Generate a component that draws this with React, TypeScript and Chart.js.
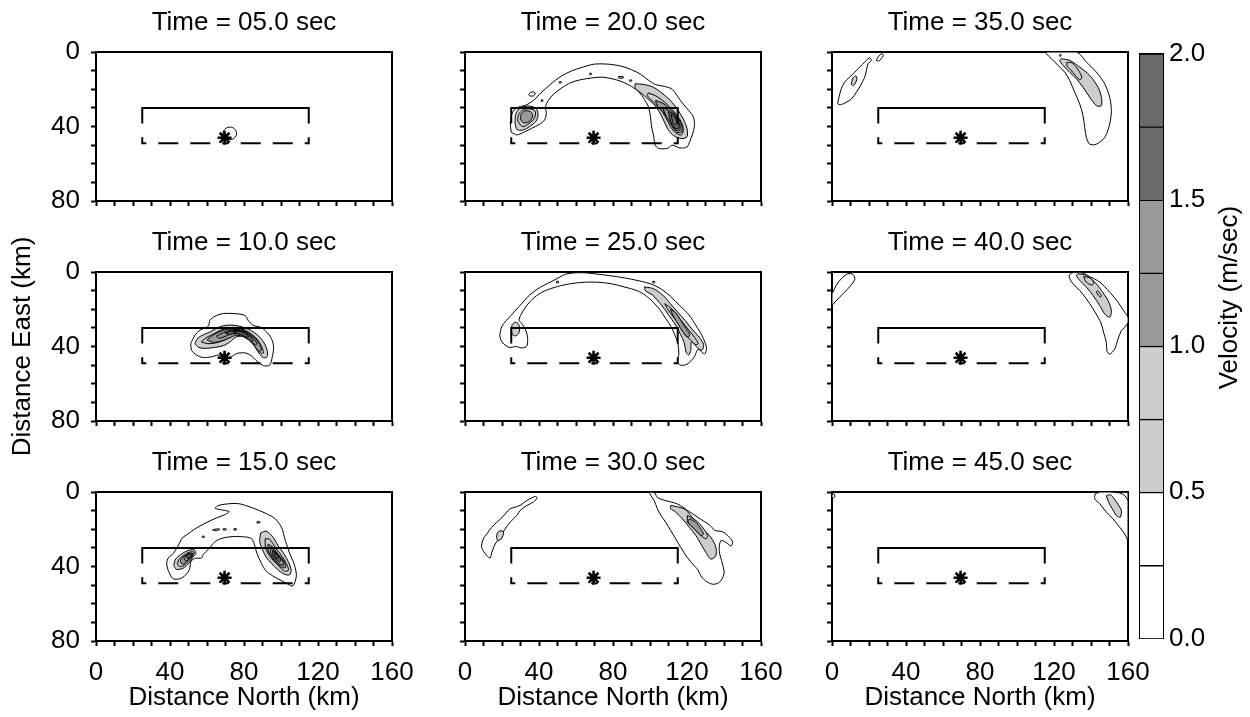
import React, { useEffect, useRef } from 'react';
import { Chart, registerables } from 'chart.js';

Chart.register(...registerables);

type Pt = [number, number];
// [velocity level (m/sec), closed outline in km as [north, east]]
type Contour = [number, Pt[]];

// Colour-bar levels and labelled ticks
const velocityLevels = [0, 0.25, 0.5, 0.75, 1.0, 1.25, 1.5, 1.75, 2.0];
const velocityTicks = [0, 0.5, 1.0, 1.5, 2.0];
const northTicksKm = [0, 40, 80, 120, 160];
const eastTicksKm = [0, 40, 80];

// Fault: solid upper edge, dashed lower edge, and the epicentre
const faultUpper: Pt[] = [[25, 38.4], [25, 30], [115, 30], [115, 38.4]];
const faultLowerWest: Pt[] = [[25, 45.8], [25, 49], [69.5, 49]];
const faultLowerEast: Pt[] = [[115, 45.8], [115, 49], [69.5, 49]];
const epicentre: Pt = [69.5, 46];

const snapshotTimes = [5, 10, 15, 20, 25, 30, 35, 40, 45];

const t05: Contour[] = [
  [0.25, [[68.5, 44.3], [69, 42.3], [70.3, 40.9], [72.2, 40.3], [74.2, 40.8], [75.6, 42.2], [76, 44], [75.2, 45.8], [73.5, 46.9], [71.5, 47], [70, 46.2]]],
];

const t10: Contour[] = [
  [0.25, [[51.2, 38.4], [51.7, 42], [54.4, 44.6], [58, 45.9], [62.5, 45.5], [66.1, 44.6], [67.9, 45.5], [70.5, 46.5], [73.2, 45.5], [75.9, 43.8], [78.6, 43.4], [81, 43.5], [84, 45], [86.5, 47.5], [88.5, 49.1], [91.2, 50.4], [93.9, 50], [95.3, 45.5], [96, 40.2], [94.8, 35.7], [92.1, 32.1], [89.4, 29.8], [84.9, 28.6], [82.2, 25.9], [81.3, 24.1], [79.5, 22.9], [74.1, 22.3], [68.8, 22.3], [64.3, 23.75], [61.6, 25.9], [60.7, 29.1], [56.2, 31.25], [53.5, 33.9]]],
  [0.5, [[53.5, 38.5], [55, 35.5], [58.5, 33.5], [62, 32], [65.5, 30], [69, 28.8], [73, 28.5], [77, 29], [80.5, 30], [84, 31.5], [87.5, 34], [90.5, 37.5], [92.5, 42], [92.5, 45.5], [90.5, 46], [88, 43.5], [85.5, 39.5], [82.5, 36], [79, 34.5], [75.5, 35], [72.5, 37.5], [69, 39.5], [64, 40.5], [59, 41], [55.5, 40.5]]],
  [0.75, [[57, 37.5], [60, 35], [64, 33], [68, 31], [72, 30], [76, 30.2], [80, 31], [83.5, 33], [87, 36], [89.5, 40], [90.5, 43.5], [89, 43.5], [86.5, 40], [83.5, 36.5], [80, 34], [76.5, 33.2], [73, 34.5], [69.5, 36.5], [65, 38], [60.5, 38.5]]],
  [1.0, [[60, 36.5], [63, 34], [67, 32], [71, 30.8], [75, 30.6], [79, 31.2], [82.5, 32.8], [86, 35.5], [88.5, 39], [89.5, 42], [88, 42.5], [85.5, 39.5], [82.5, 36.5], [79, 34.5], [75.5, 34], [72, 35.5], [68, 37], [63.5, 37.8]]],
  [1.25, [[65, 34.5], [69, 32.5], [73, 31.3], [76, 31], [79, 31.6], [82, 33], [85, 35.5], [87, 38.5], [86, 39], [83.5, 36.5], [80.5, 34], [77, 33], [73.5, 33], [70, 34.5], [66.5, 35.5]]],
  [1.5, [[70, 32.8], [73.5, 31.6], [77, 31.4], [80, 32.3], [83, 34.3], [85, 36.8], [84, 37.3], [81.5, 35.2], [78.5, 33.6], [75, 33], [72, 33.5]]],
  [1.75, [[74, 32], [77, 31.8], [80, 32.8], [82.5, 34.5], [81.5, 35], [79, 33.8], [76.5, 33]]],
];

const t15: Contour[] = [
  [0.25, [[39, 42], [38.2, 38.5], [39, 35.5], [41.8, 33], [45.4, 27], [46.3, 25], [49, 23], [54, 19.5], [59.5, 16.5], [65, 14], [70, 12], [72, 10.5], [64.5, 8.8], [66, 7.3], [70, 6.5], [77, 6.25], [84.5, 8.5], [92, 11.6], [97, 14.5], [100.5, 19.5], [102, 25], [103, 28], [104.7, 33], [107.2, 39], [108.3, 45], [106.5, 50.4], [103.8, 49.5], [100, 47.5], [95.5, 45], [92, 42.5], [89.5, 38.5], [87, 33], [86, 29.5], [84, 25], [79, 24], [73, 24], [67.5, 25], [64, 27], [61, 30.5], [58, 33.5], [57, 35.5], [54, 35.5], [51.5, 37], [50.5, 41.5], [48.5, 44.5], [45.5, 46.5], [41.5, 46.5]]],
  [0.5, [[63, 20.4], [65, 19.8], [67, 20], [65, 20.8]]],
  [0.5, [[68.5, 19.9], [70, 19.6], [70.5, 20.3], [69, 20.5]]],
  [0.5, [[74.5, 19.8], [75.8, 19.6], [75.8, 20.4], [74.5, 20.4]]],
  [0.5, [[87, 16], [88.5, 15.8], [88.5, 16.6], [87, 16.6]]],
  [0.5, [[57.5, 23.7], [58.5, 23.7], [58.5, 24.4], [57.5, 24.4]]],
  [0.5, [[42, 39.5], [43, 36], [46, 33.5], [49.5, 31.5], [53, 31], [54, 33], [52, 35.5], [50, 38.5], [47, 41], [43.5, 41.5]]],
  [0.75, [[44, 38.5], [45, 36], [47.5, 34], [50.5, 32.3], [53, 32.3], [52, 34.5], [50, 37], [47.5, 39.5], [45, 40]]],
  [1.0, [[45.5, 37], [47.5, 34.5], [50.5, 32.8], [52.5, 33.3], [51, 35.5], [48.5, 38], [46.5, 38.8]]],
  [1.25, [[47.5, 35.5], [50, 33.3], [52, 33.5], [50.5, 35.5], [48.5, 37]]],
  [1.5, [[49, 34.6], [50.8, 33.4], [51.8, 33.8], [50.3, 35.3], [49.3, 35.6]]],
  [0.5, [[89, 22], [92, 21], [95.5, 24], [98.5, 29], [101.5, 33], [104, 37.5], [105.5, 42], [104.5, 44.5], [101.5, 44], [98, 41.5], [95, 38.5], [92, 35], [90, 31], [88.5, 26.5]]],
  [0.75, [[91.5, 25], [94, 25.5], [97, 30], [100.5, 34.5], [103, 38.5], [104, 42], [102, 42.5], [99, 40], [96, 37], [93, 33], [91.5, 29]]],
  [1.0, [[93, 28], [95.5, 29.5], [98.5, 33.5], [101.5, 37], [102.5, 40.5], [100.5, 40.5], [97.5, 38], [95, 35], [93, 31.5]]],
  [1.25, [[94.5, 30], [97, 32], [100, 35.5], [101.5, 39], [99.5, 39], [96.5, 36], [94.5, 33]]],
  [1.5, [[95.5, 31.5], [98, 33.5], [100, 36.5], [99, 37.5], [97, 35.5], [95.5, 33.5]]],
  [1.75, [[96.5, 32.5], [98.5, 34.5], [98.5, 35.8], [97, 34.8]]],
];

const t20: Contour[] = [
  [0.25, [[25, 43], [24.5, 38], [25.5, 33], [28, 30], [33, 28.5], [37, 26], [41, 22], [46, 17.5], [52, 13], [58, 10], [64, 8], [70, 6.5], [77, 6.5], [84, 7.5], [90, 9.5], [95, 12], [99, 15], [103, 17.5], [108, 18.5], [112, 20], [115, 24], [118, 28], [121, 31.5], [123.5, 35], [124, 40], [123, 44], [121.5, 48], [120, 51], [116, 51.5], [112, 50], [110, 51.5], [107, 52], [104, 51.5], [102.5, 49], [102, 45], [101, 41], [100.5, 37], [100, 33], [99, 29], [97, 25.5], [94, 21.5], [90, 18.5], [85, 16], [80, 14.5], [74, 13.5], [68, 14], [62, 15], [57, 16.5], [52, 19.5], [48, 22.5], [45, 26], [43.5, 29.5], [44, 33], [43, 36.5], [40, 39], [36, 41], [32, 43], [28, 44.5]]],
  [0.25, [[34.5, 22.8], [35.5, 21.6], [37.5, 21.6], [38, 22.6], [36.8, 23.6], [35, 23.6]]],
  [0.5, [[51, 15.9], [52, 15.9], [52, 16.6], [51, 16.6]]],
  [0.5, [[41.2, 25.7], [42.1, 25.7], [42.1, 26.4], [41.2, 26.4]]],
  [0.5, [[67.4, 11.4], [68.3, 11.4], [68.3, 12.1], [67.4, 12.1]]],
  [0.5, [[83, 13.2], [85.5, 13.2], [85.5, 14], [83, 14]]],
  [0.5, [[89, 15], [90, 15], [90, 15.7], [89, 15.7]]],
  [0.5, [[27, 38], [27.5, 33], [30, 30], [34, 29], [38, 30], [39.5, 33], [38.5, 37], [35, 40], [31, 42], [28, 41.5]]],
  [0.75, [[28.5, 37], [29, 33.5], [31.5, 31], [35, 30.5], [38, 32], [37.5, 35.5], [34.5, 38.5], [31, 40]]],
  [1.0, [[30, 36], [30.5, 33], [33, 31.5], [36, 32.5], [36.5, 35], [34.5, 37.5], [31.5, 38]]],
  [0.5, [[92, 17], [97, 17.5], [102, 19], [107, 22.5], [111, 26], [115, 31], [118, 36], [120, 41], [120, 45.5], [117, 46.5], [113, 45], [110, 42], [107.5, 37], [105, 32], [102, 28], [98, 24.5], [94.5, 21.5], [92, 19.5]]],
  [0.75, [[99, 22], [103, 23.5], [108, 27], [112, 31], [116, 36], [118, 41], [117, 44.5], [114, 43.5], [111, 40], [108.5, 35], [105, 30], [101, 26], [98.5, 23.5]]],
  [1.0, [[103, 26], [107, 27.5], [110, 30], [114, 34], [117, 39], [117, 43], [114.5, 43], [112, 40], [110, 36], [107, 32], [104, 29]]],
  [1.25, [[107, 30], [110, 31.5], [113, 34], [116, 38.5], [116, 42], [113.5, 41.5], [111, 38], [108.5, 34]]],
  [1.5, [[110, 32], [113, 33.5], [115, 37], [115.5, 41], [113, 40.5], [111, 37]]],
  [1.75, [[111.5, 33.5], [113.5, 35], [114.5, 38.5], [113, 39], [112, 36.5]]],
];

const t25: Contour[] = [
  [0.25, [[18.8, 34], [20, 29], [24.8, 23.4], [29.3, 18.5], [34.7, 12.6], [41, 8], [48, 4.5], [52.5, 2], [55, 1], [60, 0.4], [66, 0.5], [72, 1.2], [80, 2.2], [88, 3.5], [96, 5.2], [102, 7], [106.5, 9.5], [111, 13], [116, 18], [121, 23], [125, 29], [128.5, 35], [130.5, 40.5], [129.5, 44], [126, 41.5], [124, 45.5], [120, 49.5], [116.5, 50], [114.8, 48], [115.6, 44], [115, 38], [113.5, 34], [111.5, 29.5], [108.5, 25], [105.5, 20.5], [102, 16.5], [97.5, 12.5], [93, 10], [86, 8], [79, 6.3], [72, 5.5], [64.5, 5.5], [57, 6.3], [50, 7.8], [42.8, 10.3], [37.4, 13.7], [33, 18.5], [30, 23.4], [29.3, 26], [31, 28], [32.9, 31.5], [33.8, 35], [33.5, 39.6], [31, 40.8], [27.5, 40], [24, 40.5], [21, 38.7], [19.4, 36.5]]],
  [0.5, [[49.5, 5], [50.5, 5], [50.5, 5.8], [49.5, 5.8]]],
  [0.5, [[101.5, 5], [102.5, 5], [102.5, 5.8], [101.5, 5.8]]],
  [0.5, [[25, 31], [25.5, 28.3], [27, 27], [28.8, 27.8], [29.5, 30.5], [29, 33], [27.3, 34.3], [25.6, 33.5]]],
  [0.5, [[97, 8], [102, 9], [107, 12.5], [111, 17], [115, 21.5], [119, 26], [123, 31], [127, 35.5], [129, 39], [128, 42], [125, 40], [122.5, 37.5], [122, 42], [121, 44.5], [119.5, 43], [118.5, 38], [116.5, 33.5], [113.5, 28], [110, 23], [106, 17.5], [101.5, 12.5], [97.5, 10]]],
  [0.75, [[108, 17], [112, 20], [116, 25], [120, 30], [124, 35], [126, 38.5], [124.5, 39], [121.5, 36], [119, 34], [116.5, 29.5], [113, 24.5], [109.5, 20]]],
  [1.0, [[111, 20], [114, 22], [117, 26.5], [119.5, 30.5], [121.5, 33.5], [120.5, 35], [118, 32.5], [115.5, 28.5], [112.5, 23.5]]],
];

const t30: Contour[] = [
  [0.25, [[38, 2.3], [39, 3.1], [37, 5.4], [33.5, 7.2], [29.8, 9.9], [28, 12.6], [24.4, 16.2], [21.7, 19.8], [19, 24.3], [16.3, 27.9], [14.5, 32.4], [13.6, 35.4], [11.8, 34.2], [9, 29.7], [9.9, 25.2], [11.8, 22.5], [14.5, 18.9], [17.2, 16.2], [19.9, 13.8], [22.6, 10.8], [24.4, 9], [27.1, 8.1], [29.8, 7.2], [33.5, 4.5], [36.2, 3.1]]],
  [0.5, [[17, 24.5], [17.5, 22], [19, 20.8], [20.8, 21.5], [20.5, 23.5], [19.3, 25.5], [17.8, 26]]],
  [0.25, [[99.5, 0], [102.5, 0.5], [104, 3], [108, 4.5], [115, 6.5], [120.3, 9.9], [125.7, 13.5], [132.5, 18], [135, 20.5], [139.5, 21.5], [143, 24.3], [144.7, 27], [143.8, 29], [141, 27], [138.3, 26.1], [137.4, 31.5], [139.2, 38.7], [140, 44], [137.4, 48.6], [133.8, 49.5], [130, 47.7], [127.5, 45], [125.7, 41.5], [123.9, 39.6], [120, 35], [116.6, 29.7], [113.9, 25.2], [111.2, 20.7], [108.5, 16.2], [105.9, 12.6], [104, 9], [102.2, 4.5], [100.4, 1.8]]],
  [0.5, [[111.2, 7.2], [118.4, 9], [122.1, 12.6], [125.7, 17.1], [129.3, 20.7], [132.9, 24.3], [135.6, 29.7], [135.6, 34.2], [132.9, 36], [130.2, 32.4], [127.5, 27.9], [124.8, 23.4], [121.2, 18.9], [117.5, 14.4], [113.9, 10.8], [111.2, 9]]],
  [0.75, [[120.3, 12.6], [124.8, 15.3], [128.4, 18.9], [131.1, 23.4], [130.2, 25.2], [126.6, 22.5], [123, 18.9], [120.3, 16.2]]],
  [1.0, [[121.2, 14.4], [124.8, 16.2], [127.5, 19.8], [128.9, 22.5], [127.5, 23.4], [124.8, 20.7], [122.1, 18], [120.6, 16.2]]],
  [0.5, [[118, 9.6], [119, 9.6], [119, 10.3], [118, 10.3]]],
];

const t35: Contour[] = [
  [0.25, [[20.4, 3.1], [21.3, 4.5], [19.5, 6.3], [18.6, 9.9], [17.7, 13.5], [15.9, 17.1], [13.2, 21.6], [10.5, 25.2], [7.7, 27], [5, 28.2], [3.2, 27.9], [3.8, 24.3], [5, 19.8], [6.8, 16.2], [9.5, 13.5], [12.3, 10.8], [15, 8.1], [17.7, 5.4], [19.5, 3.6]]],
  [0.25, [[24, 4.5], [25, 2.5], [27, 0.9], [27.7, 1.8], [26.5, 3.8], [25, 4.9]]],
  [0.5, [[10.5, 17.5], [11, 14.5], [12.5, 12.8], [13.5, 13.5], [13, 16], [11.5, 18.2]]],
  [0.25, [[115.9, 0], [132.1, 0], [137.5, 5.4], [142.9, 10.8], [147.4, 17.1], [150.1, 24.3], [151, 31.5], [150.1, 38.7], [147.4, 45.9], [142.9, 49.5], [139.3, 49.5], [137.5, 45.9], [136.6, 40.5], [135.7, 34.2], [133.9, 27.9], [131.2, 21.6], [128.5, 15.3], [125.8, 10.8], [122.2, 7.2], [118.6, 3.6], [115.9, 0.9]]],
  [0.5, [[124, 3.6], [128.5, 4.5], [133.9, 8.1], [139.3, 12.6], [143.8, 18.9], [145.6, 24.3], [145.6, 28.8], [142.9, 28.8], [139.3, 24.3], [135.7, 18.9], [132.1, 14.4], [128.5, 10.8], [124.9, 7.2], [123.1, 4.5]]],
  [0.75, [[127, 5.5], [130, 6], [133, 9.5], [135, 13.5], [134, 15], [131.5, 12.5], [129, 9.5], [127, 7.5]]],
  [0.5, [[123, 1.5], [123.8, 1.5], [123.8, 2.2], [123, 2.2]]],
];

const t40: Contour[] = [
  [0.25, [[0, 18], [4.1, 13.5], [8.6, 9], [12.3, 4.1], [11.4, 1.4], [8.6, 0.9], [5, 3.6], [2.3, 7.2], [0.5, 10.8], [0, 11.7]]],
  [0.25, [[128.1, 1.8], [130, 0.4], [135, 0.4], [139.3, 2.5], [144.7, 5.4], [150.1, 10.8], [154.6, 16.2], [158.2, 21.6], [160, 24.3], [160, 27], [158.2, 29.7], [156.4, 31.5], [154.6, 36], [152.8, 41.4], [150.1, 44.1], [148.6, 42.3], [148.3, 37.8], [146.8, 32.4], [145.6, 27.9], [143.8, 24.3], [141.1, 19.8], [137.5, 14.4], [133.9, 9.9], [130.3, 6.3], [128.5, 3.6]]],
  [0.5, [[133, 0.9], [137.5, 1.8], [142, 5.4], [145.6, 9.9], [149.2, 15.3], [151, 20.7], [150.1, 24.3], [147.4, 22.5], [144.7, 18], [141.1, 12.6], [137.5, 8.1], [133.9, 4.5], [132.1, 1.8]]],
  [0.75, [[136, 2.5], [139, 3], [141.5, 5.5], [140.5, 7], [137.5, 5.5]]],
  [0.75, [[143.5, 10], [145.5, 12.5], [145, 13.5], [143, 11]]],
];

const t45: Contour[] = [
  [0.25, [[0, 1.2], [1, 1], [1.6, 2.3], [0.8, 3.2], [0, 3]]],
  [0.25, [[142.3, 0.9], [142, 3.6], [144.7, 6.3], [148.3, 10.8], [151.9, 14.4], [155.5, 18.9], [158.2, 22.5], [159.6, 25.2], [160, 25], [160, 5], [157, 1], [150, 0], [145, 0]]],
  [0.25, [[150, 0.3], [153, 2.5], [156.5, 6], [159, 10.5], [159.8, 14], [160, 14], [160, 0.3]]],
  [0.5, [[148.3, 2], [150.5, 1.5], [152.5, 3.6], [154.5, 6.5], [156.4, 9.9], [155.8, 13.5], [153.7, 12.6], [151.5, 9], [149.5, 5.5]]],
];

const snapshots: Contour[][] = [t05, t10, t15, t20, t25, t30, t35, t40, t45];

// ---- styling ----
const FONT_FAMILY = "'Liberation Sans', Arial, Helvetica, sans-serif";
const FONT = { family: FONT_FAMILY, size: 26, weight: 'normal' as const };
Chart.defaults.font.family = FONT_FAMILY;
Chart.defaults.color = '#000';

const PLOT_LEFT = [96, 465, 832];
const PLOT_TOP = [52, 272, 492];
const PLOT_W = 296;
const PLOT_H = 149;
const AXIS_W = 100;
const TITLE_H = 45;
const XAXIS_H = 75;
const PAD_R = 40;

function bandFill(level: number): string {
  if (level < 0.5) return '#ffffff';
  if (level < 1.0) return '#cdcdcd';
  if (level < 1.5) return '#999999';
  return '#6a6a6a';
}

const toXY = (pts: Pt[]) => pts.map(([x, y]) => ({ x, y }));

const frameScale = (position: string, size: 'width' | 'height') => ({
  type: 'linear',
  position,
  min: 0,
  max: 1,
  afterFit: (s: any) => { s[size] = 0; },
  ticks: { display: false },
  grid: { display: false, drawTicks: false },
  border: { display: true, color: '#000', width: 2 },
});

function Panel({ time, contours, col, row }: { time: number; contours: Contour[]; col: number; row: number }) {
  const ref = useRef<HTMLCanvasElement>(null);
  const width = AXIS_W + PLOT_W + PAD_R;
  const height = TITLE_H + PLOT_H + XAXIS_H;

  useEffect(() => {
    if (!ref.current) return;
    const showX = row === 2;
    const showY = col === 0;
    const showYTitle = col === 0 && row === 1;

    const datasets: any[] = contours.map(([level, pts]) => ({
      data: toXY([...pts, pts[0]]),
      showLine: true,
      fill: 'shape',
      backgroundColor: bandFill(level),
      borderColor: '#000',
      borderWidth: 1,
      pointRadius: 0,
      pointHoverRadius: 0,
      tension: 0.3,
      order: 100 - level * 10,
    }));

    datasets.push(
      { data: toXY(faultUpper), showLine: true, fill: false, borderColor: '#000', borderWidth: 2, pointRadius: 0, tension: 0, order: 2 },
      { data: toXY(faultLowerWest), showLine: true, fill: false, borderColor: '#000', borderWidth: 2, borderDash: [20, 12], borderDashOffset: 10, pointRadius: 0, tension: 0, order: 2 },
      { data: toXY(faultLowerEast), showLine: true, fill: false, borderColor: '#000', borderWidth: 2, borderDash: [20, 12], borderDashOffset: 10, pointRadius: 0, tension: 0, order: 2 },
      { data: toXY([epicentre]), showLine: false, pointStyle: 'star', pointRadius: 7, pointBorderWidth: 2.6, pointBorderColor: '#000', borderColor: '#000', order: 0 },
    );

    const tickGrid = { display: true, drawOnChartArea: false, drawTicks: true, tickLength: 5, tickWidth: 2, tickColor: '#000', color: '#000' };

    const chart = new Chart(ref.current, {
      type: 'line',
      data: { datasets },
      options: {
        animation: false,
        responsive: false,
        devicePixelRatio: 1,
        events: [],
        layout: { padding: { left: 0, top: 0, right: PAD_R, bottom: 0 } },
        plugins: {
          legend: { display: false },
          tooltip: { enabled: false },
          title: {
            display: true,
            text: `Time = ${time.toFixed(1).padStart(4, '0')} sec`,
            font: FONT,
            color: '#000',
            fullSize: false,
            padding: { top: 0, bottom: TITLE_H - FONT.size * 1.2 },
          },
        },
        scales: {
          x: {
            type: 'linear',
            position: 'bottom',
            min: 0,
            max: 160,
            afterFit: (s: any) => { s.height = XAXIS_H; },
            ticks: {
              stepSize: 10,
              autoSkip: false,
              maxRotation: 0,
              padding: 11,
              font: FONT,
              color: '#000',
              callback: (v: any) => (showX && northTicksKm.includes(Number(v)) ? String(v) : ''),
            },
            grid: tickGrid,
            border: { display: true, color: '#000', width: 2 },
            title: { display: showX, text: 'Distance North (km)', font: FONT, color: '#000', padding: { top: 0, bottom: 2.9 } },
          },
          y: {
            type: 'linear',
            position: 'left',
            reverse: true,
            min: 0,
            max: 80,
            afterFit: (s: any) => { s.width = AXIS_W; },
            ticks: {
              stepSize: 10,
              autoSkip: false,
              padding: 11,
              font: FONT,
              color: '#000',
              callback: (v: any) => (showY && eastTicksKm.includes(Number(v)) ? String(v) : ''),
            },
            grid: tickGrid,
            border: { display: true, color: '#000', width: 2 },
            title: { display: showYTitle, text: 'Distance East (km)', font: FONT, color: '#000', padding: { top: 11.4, bottom: 0 } },
          },
          xTop: frameScale('top', 'height'),
          yRight: frameScale('right', 'width'),
        } as any,
      },
    } as any);
    return () => chart.destroy();
  }, [time, contours, col, row]);

  return (
    <canvas
      ref={ref}
      width={width}
      height={height}
      style={{ position: 'absolute', left: PLOT_LEFT[col] - AXIS_W, top: PLOT_TOP[row] - TITLE_H, width, height }}
    />
  );
}

const velocityTitle = {
  id: 'velocityTitle',
  afterDraw(chart: any) {
    const { ctx, chartArea } = chart;
    ctx.save();
    ctx.translate(chartArea.right + 67, chartArea.top + 244);
    ctx.rotate(-Math.PI / 2);
    ctx.font = `26px ${FONT_FAMILY}`;
    ctx.fillStyle = '#000';
    ctx.textAlign = 'center';
    ctx.textBaseline = 'middle';
    ctx.fillText('Velocity (m/sec)', 0, 0);
    ctx.restore();
  },
};

function ColorBar() {
  const ref = useRef<HTMLCanvasElement>(null);
  const left = 1130;
  const top = 32;
  const width = 120;
  const height = 628;

  useEffect(() => {
    if (!ref.current) return;
    const bands = velocityLevels.slice(1).map((hi, i) => ({ lo: velocityLevels[i], hi }));
    const chart = new Chart(ref.current, {
      type: 'bar',
      data: {
        labels: [''],
        datasets: bands.map((b) => ({
          data: [b.hi - b.lo],
          backgroundColor: bandFill(b.lo),
          borderColor: '#000',
          borderWidth: { top: 1.5, right: 0, bottom: 0, left: 0 },
          borderSkipped: false,
          barPercentage: 1,
          categoryPercentage: 1,
          stack: 'velocity',
        })),
      },
      options: {
        animation: false,
        responsive: false,
        devicePixelRatio: 1,
        events: [],
        layout: { padding: { left: 10, top: 20, right: 0, bottom: 20 } },
        plugins: { legend: { display: false }, tooltip: { enabled: false }, title: { display: false } },
        scales: {
          x: {
            type: 'category',
            stacked: true,
            position: 'bottom',
            afterFit: (s: any) => { s.height = 0; },
            ticks: { display: false },
            grid: { display: false, drawTicks: false },
            border: { display: true, color: '#000', width: 2 },
          },
          y: {
            type: 'linear',
            stacked: true,
            position: 'right',
            min: 0,
            max: 2,
            afterFit: (s: any) => { s.width = 87; },
            ticks: {
              stepSize: 0.5,
              padding: 6,
              font: FONT,
              color: '#000',
              callback: (v: any) => (velocityTicks.includes(Number(v)) ? Number(v).toFixed(1) : ''),
            },
            grid: { display: false, drawTicks: false },
            border: { display: true, color: '#000', width: 2 },
          },
          xTop: frameScale('top', 'height'),
          yLeft: frameScale('left', 'width'),
        } as any,
      },
      plugins: [velocityTitle],
    } as any);
    return () => chart.destroy();
  }, []);

  return (
    <canvas
      ref={ref}
      width={width}
      height={height}
      style={{ position: 'absolute', left, top, width, height }}
    />
  );
}

export default function App() {
  return (
    <div style={{ position: 'absolute', left: 0, top: 0, width: 1250, height: 717, background: '#fff', overflow: 'hidden' }}>
      {snapshotTimes.map((t, i) => (
        <Panel key={t} time={t} contours={snapshots[i]} col={Math.floor(i / 3)} row={i % 3} />
      ))}
      <ColorBar />
    </div>
  );
}
